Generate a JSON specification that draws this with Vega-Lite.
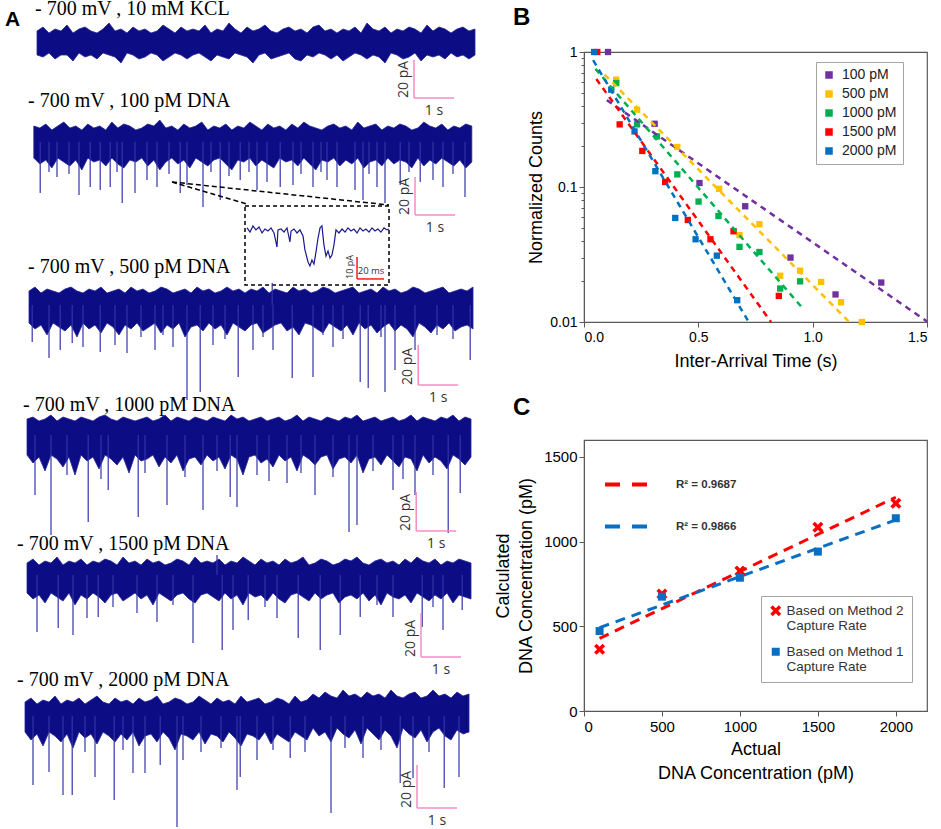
{
"$schema":"https://vega.github.io/schema/vega-lite/v6.json",
"background":"white",
"padding":{"left":5,"top":-1,"right":0,"bottom":0},
"config":{
 "view":{"stroke":null},
 "font":"Liberation Sans",
 "title":{"anchor":"start","frame":"group","font":"Liberation Serif","fontSize":20,"fontWeight":"normal","color":"black","baseline":"alphabetic"},
 "axis":{"grid":false,"domainColor":"#595959","tickColor":"#595959","labelColor":"black","titleColor":"black","labelFont":"Liberation Sans","titleFont":"Liberation Sans","titleFontWeight":"normal","labelFontSize":14,"titleFontSize":18,"tickSize":5,"labelOverlap":false},
 "legend":{"labelFont":"Liberation Sans","labelColor":"#222"},
 "text":{"font":"Open Sans"}
},
"datasets":{
 "b1":[{"t":0.3,"hi":6,"lo":-6},{"t":0.45,"hi":8,"lo":-7},{"t":0.6,"hi":5,"lo":-5},{"t":0.75,"hi":7,"lo":-8},{"t":0.9,"hi":6,"lo":-6},{"t":1.05,"hi":9,"lo":-6},{"t":1.2,"hi":5,"lo":-9},{"t":1.35,"hi":7,"lo":-5},{"t":1.5,"hi":8,"lo":-7},{"t":1.65,"hi":6,"lo":-6},{"t":1.8,"hi":5,"lo":-8},{"t":1.95,"hi":7,"lo":-5},{"t":2.1,"hi":10,"lo":-6},{"t":2.25,"hi":6,"lo":-7},{"t":2.4,"hi":7,"lo":-10},{"t":2.55,"hi":5,"lo":-5},{"t":2.7,"hi":8,"lo":-6},{"t":2.85,"hi":6,"lo":-8},{"t":3,"hi":7,"lo":-7},{"t":3.15,"hi":5,"lo":-5},{"t":3.3,"hi":6,"lo":-6},{"t":3.45,"hi":9,"lo":-9},{"t":3.6,"hi":7,"lo":-7},{"t":3.75,"hi":5,"lo":-5},{"t":3.9,"hi":8,"lo":-6},{"t":4.05,"hi":6,"lo":-8},{"t":4.2,"hi":7,"lo":-6},{"t":4.35,"hi":6,"lo":-5},{"t":4.5,"hi":9,"lo":-7},{"t":4.65,"hi":5,"lo":-9},{"t":4.8,"hi":7,"lo":-6},{"t":4.95,"hi":6,"lo":-7},{"t":5.1,"hi":10,"lo":-8},{"t":5.25,"hi":7,"lo":-5},{"t":5.4,"hi":5,"lo":-6},{"t":5.55,"hi":8,"lo":-7},{"t":5.7,"hi":6,"lo":-10},{"t":5.85,"hi":7,"lo":-6},{"t":6,"hi":9,"lo":-5},{"t":6.15,"hi":6,"lo":-8},{"t":6.3,"hi":5,"lo":-7},{"t":6.45,"hi":7,"lo":-6},{"t":6.6,"hi":8,"lo":-5},{"t":6.75,"hi":6,"lo":-8},{"t":6.9,"hi":7,"lo":-9},{"t":7.05,"hi":5,"lo":-6},{"t":7.2,"hi":8,"lo":-7},{"t":7.35,"hi":9,"lo":-5},{"t":7.5,"hi":6,"lo":-6},{"t":7.65,"hi":7,"lo":-8},{"t":7.8,"hi":5,"lo":-6},{"t":7.95,"hi":7,"lo":-9},{"t":8.1,"hi":6,"lo":-7},{"t":8.25,"hi":8,"lo":-5},{"t":8.4,"hi":5,"lo":-6},{"t":8.55,"hi":10,"lo":-8},{"t":8.7,"hi":7,"lo":-6},{"t":8.85,"hi":6,"lo":-7},{"t":9,"hi":8,"lo":-10},{"t":9.15,"hi":5,"lo":-5},{"t":9.3,"hi":7,"lo":-6},{"t":9.45,"hi":6,"lo":-8},{"t":9.6,"hi":8,"lo":-7},{"t":9.75,"hi":7,"lo":-5},{"t":9.9,"hi":5,"lo":-9},{"t":10.05,"hi":9,"lo":-6},{"t":10.2,"hi":6,"lo":-7},{"t":10.35,"hi":8,"lo":-6},{"t":10.5,"hi":7,"lo":-8},{"t":10.65,"hi":5,"lo":-5},{"t":10.8,"hi":7,"lo":-7},{"t":10.95,"hi":8,"lo":-6},{"t":11.1,"hi":6,"lo":-8},{"t":11.25,"hi":7,"lo":-6}],
 "b2":[{"t":0.22,"hi":8,"lo":-8},{"t":0.37,"hi":7,"lo":-11},{"t":0.52,"hi":9,"lo":-9},{"t":0.67,"hi":6,"lo":-13},{"t":0.82,"hi":8,"lo":-8},{"t":0.97,"hi":10,"lo":-10},{"t":1.12,"hi":7,"lo":-12},{"t":1.27,"hi":8,"lo":-9},{"t":1.42,"hi":6,"lo":-14},{"t":1.57,"hi":9,"lo":-8},{"t":1.72,"hi":7,"lo":-10},{"t":1.87,"hi":8,"lo":-9},{"t":2.02,"hi":6,"lo":-12},{"t":2.17,"hi":10,"lo":-8},{"t":2.32,"hi":7,"lo":-11},{"t":2.47,"hi":9,"lo":-13},{"t":2.62,"hi":8,"lo":-9},{"t":2.77,"hi":6,"lo":-10},{"t":2.92,"hi":7,"lo":-8},{"t":3.07,"hi":9,"lo":-12},{"t":3.22,"hi":8,"lo":-9},{"t":3.37,"hi":11,"lo":-14},{"t":3.52,"hi":7,"lo":-10},{"t":3.67,"hi":8,"lo":-8},{"t":3.82,"hi":6,"lo":-11},{"t":3.97,"hi":9,"lo":-9},{"t":4.12,"hi":7,"lo":-13},{"t":4.27,"hi":8,"lo":-8},{"t":4.42,"hi":10,"lo":-10},{"t":4.57,"hi":6,"lo":-12},{"t":4.72,"hi":8,"lo":-9},{"t":4.87,"hi":7,"lo":-8},{"t":5.02,"hi":9,"lo":-11},{"t":5.17,"hi":6,"lo":-14},{"t":5.32,"hi":8,"lo":-9},{"t":5.47,"hi":7,"lo":-10},{"t":5.62,"hi":10,"lo":-8},{"t":5.77,"hi":8,"lo":-12},{"t":5.92,"hi":6,"lo":-9},{"t":6.07,"hi":9,"lo":-11},{"t":6.22,"hi":7,"lo":-13},{"t":6.37,"hi":8,"lo":-8},{"t":6.52,"hi":6,"lo":-10},{"t":6.67,"hi":9,"lo":-9},{"t":6.82,"hi":7,"lo":-12},{"t":6.97,"hi":10,"lo":-8},{"t":7.12,"hi":8,"lo":-11},{"t":7.27,"hi":7,"lo":-14},{"t":7.42,"hi":6,"lo":-9},{"t":7.57,"hi":8,"lo":-10},{"t":7.72,"hi":9,"lo":-8},{"t":7.87,"hi":7,"lo":-12},{"t":8.02,"hi":8,"lo":-9},{"t":8.17,"hi":6,"lo":-11},{"t":8.32,"hi":10,"lo":-8},{"t":8.47,"hi":7,"lo":-13},{"t":8.62,"hi":8,"lo":-10},{"t":8.77,"hi":9,"lo":-9},{"t":8.92,"hi":6,"lo":-12},{"t":9.07,"hi":8,"lo":-8},{"t":9.22,"hi":7,"lo":-11},{"t":9.37,"hi":9,"lo":-9},{"t":9.52,"hi":8,"lo":-10},{"t":9.67,"hi":6,"lo":-13},{"t":9.82,"hi":7,"lo":-8},{"t":9.97,"hi":10,"lo":-12},{"t":10.12,"hi":8,"lo":-9},{"t":10.27,"hi":7,"lo":-11},{"t":10.42,"hi":9,"lo":-8},{"t":10.57,"hi":6,"lo":-10},{"t":10.72,"hi":8,"lo":-12},{"t":10.87,"hi":7,"lo":-9},{"t":11.02,"hi":9,"lo":-13},{"t":11.17,"hi":8,"lo":-10}],
 "b3":[{"t":0.1,"hi":7,"lo":-9},{"t":0.25,"hi":9,"lo":-12},{"t":0.4,"hi":6,"lo":-10},{"t":0.55,"hi":8,"lo":-15},{"t":0.7,"hi":7,"lo":-9},{"t":0.85,"hi":6,"lo":-11},{"t":1,"hi":8,"lo":-13},{"t":1.15,"hi":9,"lo":-10},{"t":1.3,"hi":7,"lo":-16},{"t":1.45,"hi":6,"lo":-9},{"t":1.6,"hi":8,"lo":-12},{"t":1.75,"hi":7,"lo":-10},{"t":1.9,"hi":9,"lo":-14},{"t":2.05,"hi":6,"lo":-9},{"t":2.2,"hi":7,"lo":-11},{"t":2.35,"hi":8,"lo":-15},{"t":2.5,"hi":6,"lo":-10},{"t":2.65,"hi":9,"lo":-12},{"t":2.8,"hi":7,"lo":-9},{"t":2.95,"hi":8,"lo":-13},{"t":3.1,"hi":6,"lo":-11},{"t":3.25,"hi":7,"lo":-9},{"t":3.4,"hi":9,"lo":-14},{"t":3.55,"hi":8,"lo":-10},{"t":3.7,"hi":6,"lo":-12},{"t":3.85,"hi":7,"lo":-9},{"t":4,"hi":8,"lo":-16},{"t":4.15,"hi":6,"lo":-11},{"t":4.3,"hi":9,"lo":-10},{"t":4.45,"hi":7,"lo":-13},{"t":4.6,"hi":8,"lo":-9},{"t":4.75,"hi":6,"lo":-12},{"t":4.9,"hi":7,"lo":-10},{"t":5.05,"hi":9,"lo":-15},{"t":5.2,"hi":7,"lo":-9},{"t":5.35,"hi":8,"lo":-11},{"t":5.5,"hi":6,"lo":-13},{"t":5.65,"hi":8,"lo":-10},{"t":5.8,"hi":7,"lo":-9},{"t":5.95,"hi":9,"lo":-14},{"t":6.1,"hi":6,"lo":-12},{"t":6.25,"hi":8,"lo":-10},{"t":6.4,"hi":7,"lo":-9},{"t":6.55,"hi":6,"lo":-13},{"t":6.7,"hi":9,"lo":-11},{"t":6.85,"hi":7,"lo":-15},{"t":7,"hi":8,"lo":-9},{"t":7.15,"hi":6,"lo":-10},{"t":7.3,"hi":7,"lo":-12},{"t":7.45,"hi":9,"lo":-14},{"t":7.6,"hi":8,"lo":-9},{"t":7.75,"hi":6,"lo":-11},{"t":7.9,"hi":7,"lo":-13},{"t":8.05,"hi":8,"lo":-10},{"t":8.2,"hi":9,"lo":-15},{"t":8.35,"hi":6,"lo":-9},{"t":8.5,"hi":7,"lo":-12},{"t":8.65,"hi":8,"lo":-10},{"t":8.8,"hi":6,"lo":-14},{"t":8.95,"hi":9,"lo":-11},{"t":9.1,"hi":7,"lo":-9},{"t":9.25,"hi":8,"lo":-13},{"t":9.4,"hi":6,"lo":-10},{"t":9.55,"hi":7,"lo":-12},{"t":9.7,"hi":9,"lo":-16},{"t":9.85,"hi":8,"lo":-9},{"t":10,"hi":6,"lo":-11},{"t":10.15,"hi":7,"lo":-14},{"t":10.3,"hi":8,"lo":-10},{"t":10.45,"hi":9,"lo":-12},{"t":10.6,"hi":6,"lo":-9},{"t":10.75,"hi":7,"lo":-13},{"t":10.9,"hi":8,"lo":-11},{"t":11.05,"hi":7,"lo":-10},{"t":11.2,"hi":9,"lo":-12}],
 "b4":[{"t":0.05,"hi":8,"lo":-10},{"t":0.2,"hi":9,"lo":-14},{"t":0.35,"hi":7,"lo":-11},{"t":0.5,"hi":8,"lo":-18},{"t":0.65,"hi":10,"lo":-10},{"t":0.8,"hi":7,"lo":-12},{"t":0.95,"hi":9,"lo":-16},{"t":1.1,"hi":8,"lo":-11},{"t":1.25,"hi":7,"lo":-20},{"t":1.4,"hi":9,"lo":-10},{"t":1.55,"hi":8,"lo":-13},{"t":1.7,"hi":7,"lo":-11},{"t":1.85,"hi":9,"lo":-17},{"t":2,"hi":10,"lo":-10},{"t":2.15,"hi":8,"lo":-12},{"t":2.3,"hi":7,"lo":-15},{"t":2.45,"hi":9,"lo":-11},{"t":2.6,"hi":8,"lo":-19},{"t":2.75,"hi":7,"lo":-10},{"t":2.9,"hi":8,"lo":-13},{"t":3.05,"hi":9,"lo":-12},{"t":3.2,"hi":7,"lo":-10},{"t":3.35,"hi":8,"lo":-16},{"t":3.5,"hi":10,"lo":-11},{"t":3.65,"hi":7,"lo":-14},{"t":3.8,"hi":9,"lo":-10},{"t":3.95,"hi":8,"lo":-18},{"t":4.1,"hi":7,"lo":-12},{"t":4.25,"hi":9,"lo":-11},{"t":4.4,"hi":8,"lo":-15},{"t":4.55,"hi":7,"lo":-10},{"t":4.7,"hi":9,"lo":-13},{"t":4.85,"hi":8,"lo":-11},{"t":5,"hi":7,"lo":-17},{"t":5.15,"hi":10,"lo":-10},{"t":5.3,"hi":8,"lo":-12},{"t":5.45,"hi":9,"lo":-20},{"t":5.6,"hi":7,"lo":-11},{"t":5.75,"hi":8,"lo":-10},{"t":5.9,"hi":9,"lo":-14},{"t":6.05,"hi":7,"lo":-12},{"t":6.2,"hi":8,"lo":-16},{"t":6.35,"hi":9,"lo":-10},{"t":6.5,"hi":7,"lo":-13},{"t":6.65,"hi":8,"lo":-11},{"t":6.8,"hi":10,"lo":-18},{"t":6.95,"hi":7,"lo":-10},{"t":7.1,"hi":9,"lo":-12},{"t":7.25,"hi":8,"lo":-15},{"t":7.4,"hi":7,"lo":-11},{"t":7.55,"hi":9,"lo":-10},{"t":7.7,"hi":8,"lo":-17},{"t":7.85,"hi":7,"lo":-12},{"t":8,"hi":9,"lo":-11},{"t":8.15,"hi":8,"lo":-14},{"t":8.3,"hi":10,"lo":-10},{"t":8.45,"hi":7,"lo":-19},{"t":8.6,"hi":8,"lo":-12},{"t":8.75,"hi":9,"lo":-11},{"t":8.9,"hi":7,"lo":-15},{"t":9.05,"hi":8,"lo":-10},{"t":9.2,"hi":9,"lo":-13},{"t":9.35,"hi":7,"lo":-16},{"t":9.5,"hi":8,"lo":-11},{"t":9.65,"hi":10,"lo":-12},{"t":9.8,"hi":7,"lo":-18},{"t":9.95,"hi":9,"lo":-10},{"t":10.1,"hi":8,"lo":-14},{"t":10.25,"hi":7,"lo":-11},{"t":10.4,"hi":9,"lo":-13},{"t":10.55,"hi":8,"lo":-17},{"t":10.7,"hi":10,"lo":-10},{"t":10.85,"hi":7,"lo":-12},{"t":11,"hi":9,"lo":-15},{"t":11.15,"hi":8,"lo":-11}],
 "b5":[{"t":0.05,"hi":6,"lo":-9},{"t":0.2,"hi":8,"lo":-12},{"t":0.35,"hi":5,"lo":-10},{"t":0.5,"hi":7,"lo":-14},{"t":0.65,"hi":6,"lo":-9},{"t":0.8,"hi":9,"lo":-11},{"t":0.95,"hi":5,"lo":-13},{"t":1.1,"hi":7,"lo":-9},{"t":1.25,"hi":6,"lo":-15},{"t":1.4,"hi":8,"lo":-10},{"t":1.55,"hi":5,"lo":-12},{"t":1.7,"hi":7,"lo":-9},{"t":1.85,"hi":6,"lo":-11},{"t":2,"hi":8,"lo":-14},{"t":2.15,"hi":7,"lo":-10},{"t":2.3,"hi":5,"lo":-9},{"t":2.45,"hi":9,"lo":-13},{"t":2.6,"hi":6,"lo":-11},{"t":2.75,"hi":7,"lo":-9},{"t":2.9,"hi":5,"lo":-12},{"t":3.05,"hi":8,"lo":-10},{"t":3.2,"hi":6,"lo":-15},{"t":3.35,"hi":7,"lo":-9},{"t":3.5,"hi":5,"lo":-11},{"t":3.65,"hi":6,"lo":-13},{"t":3.8,"hi":8,"lo":-10},{"t":3.95,"hi":7,"lo":-9},{"t":4.1,"hi":5,"lo":-12},{"t":4.25,"hi":9,"lo":-14},{"t":4.4,"hi":6,"lo":-10},{"t":4.55,"hi":7,"lo":-9},{"t":4.7,"hi":6,"lo":-11},{"t":4.85,"hi":8,"lo":-13},{"t":5,"hi":5,"lo":-9},{"t":5.15,"hi":7,"lo":-12},{"t":5.3,"hi":6,"lo":-10},{"t":5.45,"hi":9,"lo":-15},{"t":5.6,"hi":7,"lo":-9},{"t":5.75,"hi":5,"lo":-11},{"t":5.9,"hi":8,"lo":-10},{"t":6.05,"hi":6,"lo":-13},{"t":6.2,"hi":7,"lo":-9},{"t":6.35,"hi":5,"lo":-12},{"t":6.5,"hi":8,"lo":-14},{"t":6.65,"hi":6,"lo":-10},{"t":6.8,"hi":7,"lo":-9},{"t":6.95,"hi":9,"lo":-11},{"t":7.1,"hi":5,"lo":-13},{"t":7.25,"hi":6,"lo":-9},{"t":7.4,"hi":8,"lo":-12},{"t":7.55,"hi":7,"lo":-10},{"t":7.7,"hi":5,"lo":-9},{"t":7.85,"hi":6,"lo":-14},{"t":8,"hi":8,"lo":-11},{"t":8.15,"hi":7,"lo":-10},{"t":8.3,"hi":9,"lo":-12},{"t":8.45,"hi":6,"lo":-9},{"t":8.6,"hi":5,"lo":-13},{"t":8.75,"hi":7,"lo":-10},{"t":8.9,"hi":8,"lo":-15},{"t":9.05,"hi":6,"lo":-9},{"t":9.2,"hi":7,"lo":-11},{"t":9.35,"hi":5,"lo":-12},{"t":9.5,"hi":8,"lo":-10},{"t":9.65,"hi":6,"lo":-14},{"t":9.8,"hi":9,"lo":-9},{"t":9.95,"hi":7,"lo":-11},{"t":10.1,"hi":6,"lo":-13},{"t":10.25,"hi":8,"lo":-10},{"t":10.4,"hi":5,"lo":-12},{"t":10.55,"hi":7,"lo":-9},{"t":10.7,"hi":6,"lo":-14},{"t":10.85,"hi":8,"lo":-10},{"t":11,"hi":7,"lo":-11},{"t":11.15,"hi":6,"lo":-12}],
 "b6":[{"t":0,"hi":7,"lo":-8},{"t":0.15,"hi":9,"lo":-12},{"t":0.3,"hi":6,"lo":-9},{"t":0.45,"hi":8,"lo":-15},{"t":0.6,"hi":7,"lo":-8},{"t":0.75,"hi":10,"lo":-10},{"t":0.9,"hi":6,"lo":-13},{"t":1.05,"hi":8,"lo":-9},{"t":1.2,"hi":7,"lo":-16},{"t":1.35,"hi":9,"lo":-8},{"t":1.5,"hi":6,"lo":-11},{"t":1.65,"hi":8,"lo":-9},{"t":1.8,"hi":10,"lo":-14},{"t":1.95,"hi":7,"lo":-8},{"t":2.1,"hi":6,"lo":-10},{"t":2.25,"hi":9,"lo":-13},{"t":2.4,"hi":7,"lo":-9},{"t":2.55,"hi":8,"lo":-12},{"t":2.7,"hi":6,"lo":-8},{"t":2.85,"hi":9,"lo":-15},{"t":3,"hi":7,"lo":-10},{"t":3.15,"hi":8,"lo":-9},{"t":3.3,"hi":10,"lo":-13},{"t":3.45,"hi":6,"lo":-8},{"t":3.6,"hi":7,"lo":-11},{"t":3.75,"hi":9,"lo":-17},{"t":3.9,"hi":8,"lo":-9},{"t":4.05,"hi":6,"lo":-10},{"t":4.2,"hi":7,"lo":-12},{"t":4.35,"hi":10,"lo":-8},{"t":4.5,"hi":8,"lo":-14},{"t":4.65,"hi":6,"lo":-9},{"t":4.8,"hi":9,"lo":-10},{"t":4.95,"hi":7,"lo":-13},{"t":5.1,"hi":8,"lo":-8},{"t":5.25,"hi":6,"lo":-11},{"t":5.4,"hi":10,"lo":-15},{"t":5.55,"hi":7,"lo":-9},{"t":5.7,"hi":8,"lo":-10},{"t":5.85,"hi":9,"lo":-12},{"t":6,"hi":6,"lo":-8},{"t":6.15,"hi":7,"lo":-14},{"t":6.3,"hi":9,"lo":-9},{"t":6.45,"hi":8,"lo":-11},{"t":6.6,"hi":6,"lo":-13},{"t":6.75,"hi":10,"lo":-8},{"t":6.9,"hi":7,"lo":-10},{"t":7.05,"hi":8,"lo":-12},{"t":7.2,"hi":11,"lo":-6},{"t":7.35,"hi":9,"lo":-10},{"t":7.5,"hi":12,"lo":-8},{"t":7.65,"hi":10,"lo":-13},{"t":7.8,"hi":9,"lo":-6},{"t":7.95,"hi":13,"lo":-9},{"t":8.1,"hi":10,"lo":-11},{"t":8.25,"hi":11,"lo":-7},{"t":8.4,"hi":9,"lo":-14},{"t":8.55,"hi":12,"lo":-6},{"t":8.7,"hi":10,"lo":-9},{"t":8.85,"hi":11,"lo":-12},{"t":9,"hi":9,"lo":-7},{"t":9.15,"hi":13,"lo":-10},{"t":9.3,"hi":10,"lo":-16},{"t":9.45,"hi":9,"lo":-6},{"t":9.6,"hi":11,"lo":-9},{"t":9.75,"hi":12,"lo":-11},{"t":9.9,"hi":9,"lo":-7},{"t":10.05,"hi":10,"lo":-13},{"t":10.2,"hi":13,"lo":-8},{"t":10.35,"hi":10,"lo":-6},{"t":10.5,"hi":11,"lo":-10},{"t":10.65,"hi":9,"lo":-12},{"t":10.8,"hi":12,"lo":-7},{"t":10.95,"hi":10,"lo":-9},{"t":11.1,"hi":11,"lo":-8}],
 "s2":[{"t":0.38,"sp":-25.5},{"t":0.8,"sp":-17.5},{"t":1.35,"sp":-26.5},{"t":1.63,"sp":-22.5},{"t":1.88,"sp":-24},{"t":2.13,"sp":-22.5},{"t":2.43,"sp":-30.5},{"t":2.75,"sp":-25.5},{"t":3.05,"sp":-19},{"t":3.3,"sp":-22.5},{"t":3.88,"sp":-25.5},{"t":4.05,"sp":-21.5},{"t":4.45,"sp":-32.5},{"t":4.88,"sp":-29},{"t":5.38,"sp":-19},{"t":5.8,"sp":-24},{"t":6.05,"sp":-20},{"t":6.38,"sp":-22.5},{"t":6.7,"sp":-21.5},{"t":7.2,"sp":-22.5},{"t":7.55,"sp":-19},{"t":7.8,"sp":-22.5},{"t":8.25,"sp":-24},{"t":8.45,"sp":-29},{"t":8.8,"sp":-22.5},{"t":9,"sp":-30.5},{"t":9.38,"sp":-21.5},{"t":9.88,"sp":-20},{"t":10.2,"sp":-19},{"t":10.45,"sp":-22.5},{"t":11,"sp":-27.5},{"t":0.6,"sp":-15},{"t":1.1,"sp":-16},{"t":2.3,"sp":-15},{"t":3.6,"sp":-16},{"t":4.65,"sp":-15},{"t":5.1,"sp":-17},{"t":5.6,"sp":-15},{"t":6.9,"sp":-16},{"t":7.4,"sp":-15},{"t":8.6,"sp":-16},{"t":9.6,"sp":-15},{"t":10.7,"sp":-16}],
 "s3":[{"t":0.18,"sp":-18.5},{"t":0.6,"sp":-26.5},{"t":0.88,"sp":-22.5},{"t":1.18,"sp":-19},{"t":1.45,"sp":-21},{"t":1.88,"sp":-23.5},{"t":2.25,"sp":-20},{"t":2.55,"sp":-24},{"t":3.25,"sp":-22.5},{"t":3.7,"sp":-21},{"t":4.05,"sp":-47.5},{"t":4.38,"sp":-43.5},{"t":4.7,"sp":-20},{"t":5.33,"sp":-36},{"t":5.7,"sp":-22.5},{"t":6.2,"sp":-22.5},{"t":6.68,"sp":-36.5},{"t":7.2,"sp":-36},{"t":7.7,"sp":-21},{"t":8.38,"sp":-38.5},{"t":8.58,"sp":-41.5},{"t":9,"sp":-43.5},{"t":9.25,"sp":-32.5},{"t":9.75,"sp":-22.5},{"t":11.13,"sp":-27.5},{"t":6.18,"sp":11},{"t":2.9,"sp":-16},{"t":3.45,"sp":-15},{"t":5,"sp":-17},{"t":5.95,"sp":-16},{"t":7.45,"sp":-15},{"t":7.95,"sp":-17},{"t":8.9,"sp":-16},{"t":10.3,"sp":-15},{"t":10.7,"sp":-17}],
 "s4":[{"t":0.25,"sp":-30},{"t":0.65,"sp":-50},{"t":1.58,"sp":-43.5},{"t":2.08,"sp":-27.5},{"t":2.83,"sp":-41},{"t":3.55,"sp":-35},{"t":4.45,"sp":-37.5},{"t":5.13,"sp":-31},{"t":5.3,"sp":-36},{"t":6.55,"sp":-24},{"t":7.25,"sp":-30},{"t":8.1,"sp":-48.5},{"t":8.3,"sp":-45},{"t":9.2,"sp":-27.5},{"t":9.75,"sp":-30},{"t":10.58,"sp":-49},{"t":10.88,"sp":-29},{"t":1.05,"sp":-20},{"t":1.9,"sp":-22},{"t":3,"sp":-19},{"t":4,"sp":-21},{"t":4.8,"sp":-18},{"t":5.8,"sp":-20},{"t":6.1,"sp":-23},{"t":6.9,"sp":-19},{"t":7.7,"sp":-21},{"t":8.7,"sp":-18},{"t":9.45,"sp":-22},{"t":10.2,"sp":-20}],
 "s5":[{"t":0.3,"sp":-28.5},{"t":0.83,"sp":-26.5},{"t":1.2,"sp":-30},{"t":1.55,"sp":-21.5},{"t":1.83,"sp":-21},{"t":2.8,"sp":-19},{"t":3.3,"sp":-23.5},{"t":4.2,"sp":-34},{"t":4.93,"sp":-37.5},{"t":5.2,"sp":-27.5},{"t":5.58,"sp":-22.5},{"t":6.3,"sp":-21.5},{"t":6.83,"sp":-31.5},{"t":7.38,"sp":-37.5},{"t":7.88,"sp":-30},{"t":8.38,"sp":-21},{"t":9.2,"sp":-21},{"t":9.93,"sp":-26},{"t":10.45,"sp":-27.5},{"t":10.93,"sp":-17.5},{"t":4.8,"sp":10},{"t":2.2,"sp":-16},{"t":3.7,"sp":-15},{"t":6,"sp":-16},{"t":8.8,"sp":-15},{"t":10.2,"sp":-16}],
 "s6":[{"t":0.2,"sp":-34.5},{"t":0.6,"sp":-28},{"t":0.95,"sp":-39.5},{"t":1.18,"sp":-39.5},{"t":1.75,"sp":-30.5},{"t":2.23,"sp":-42},{"t":2.7,"sp":-28.5},{"t":3,"sp":-28.5},{"t":3.38,"sp":-24.5},{"t":3.8,"sp":-55.5},{"t":3.95,"sp":-22},{"t":5.3,"sp":-37},{"t":5.38,"sp":-30.5},{"t":5.8,"sp":-22},{"t":6.63,"sp":-21},{"t":7.65,"sp":-48.5},{"t":8.45,"sp":-21},{"t":9.38,"sp":-33.5},{"t":9.7,"sp":-31},{"t":10.48,"sp":-36},{"t":10.85,"sp":-30.5},{"t":1.5,"sp":-18},{"t":2.45,"sp":-17},{"t":4.4,"sp":-18},{"t":4.9,"sp":-16},{"t":6.2,"sp":-17},{"t":7,"sp":-18},{"t":8,"sp":-16},{"t":8.9,"sp":-17},{"t":10.1,"sp":-18}],
 "ins":[{"ms":1.5,"ip":1.4},{"ms":3.7,"ip":-0.5},{"ms":5.9,"ip":2.3},{"ms":8.1,"ip":0.5},{"ms":10.4,"ip":1.8},{"ms":12.6,"ip":-0.9},{"ms":14.8,"ip":0.9},{"ms":17,"ip":0},{"ms":19.3,"ip":1.4},{"ms":21.5,"ip":-0.9},{"ms":23.7,"ip":-7.3},{"ms":24.4,"ip":0.5},{"ms":26.7,"ip":0.9},{"ms":28.9,"ip":-0.5},{"ms":31.1,"ip":1.4},{"ms":33.3,"ip":-5},{"ms":34.1,"ip":0},{"ms":36.3,"ip":0.9},{"ms":38.5,"ip":-0.9},{"ms":40.7,"ip":0.5},{"ms":43,"ip":-2.3},{"ms":44.4,"ip":-8.6},{"ms":46.7,"ip":-14.1},{"ms":48.1,"ip":-15.9},{"ms":49.6,"ip":-13.2},{"ms":51.1,"ip":-15},{"ms":52.6,"ip":-9.5},{"ms":54.1,"ip":-3.2},{"ms":55.6,"ip":1.4},{"ms":57,"ip":2.3},{"ms":58.5,"ip":-6.4},{"ms":60,"ip":-11.4},{"ms":61.5,"ip":-9.1},{"ms":63,"ip":-12.3},{"ms":64.4,"ip":-10.9},{"ms":65.9,"ip":-6.4},{"ms":67.4,"ip":0.5},{"ms":69.6,"ip":-0.9},{"ms":71.9,"ip":0.9},{"ms":74.1,"ip":-0.5},{"ms":76.3,"ip":1.4},{"ms":78.5,"ip":0},{"ms":80.7,"ip":0.9},{"ms":83,"ip":-0.9},{"ms":85.2,"ip":1.4},{"ms":87.4,"ip":0},{"ms":89.6,"ip":0.9},{"ms":91.9,"ip":-0.5},{"ms":94.1,"ip":1.4},{"ms":96.3,"ip":0},{"ms":98.5,"ip":0.9},{"ms":100.7,"ip":-0.5},{"ms":103,"ip":1.4},{"ms":105.2,"ip":0.5},{"ms":106.7,"ip":0.9}],
 "bp":[{"c":"100 pM","t":0.105,"n":1},{"c":"100 pM","t":0.309,"n":0.294},{"c":"100 pM","t":0.505,"n":0.107},{"c":"100 pM","t":0.705,"n":0.072},{"c":"100 pM","t":0.903,"n":0.03},{"c":"100 pM","t":1.1,"n":0.016},{"c":"100 pM","t":1.3,"n":0.0196},{"c":"500 pM","t":0.141,"n":0.624},{"c":"500 pM","t":0.232,"n":0.374},{"c":"500 pM","t":0.408,"n":0.198},{"c":"500 pM","t":0.591,"n":0.097},{"c":"500 pM","t":0.68,"n":0.044},{"c":"500 pM","t":0.767,"n":0.053},{"c":"500 pM","t":0.858,"n":0.022},{"c":"500 pM","t":0.945,"n":0.024},{"c":"500 pM","t":1.037,"n":0.0198},{"c":"500 pM","t":1.124,"n":0.014},{"c":"500 pM","t":1.215,"n":0.01},{"c":"1000 pM","t":0.141,"n":0.589},{"c":"1000 pM","t":0.232,"n":0.291},{"c":"1000 pM","t":0.319,"n":0.237},{"c":"1000 pM","t":0.408,"n":0.124},{"c":"1000 pM","t":0.501,"n":0.078},{"c":"1000 pM","t":0.588,"n":0.061},{"c":"1000 pM","t":0.68,"n":0.036},{"c":"1000 pM","t":0.767,"n":0.033},{"c":"1000 pM","t":0.858,"n":0.0177},{"c":"1000 pM","t":0.945,"n":0.02},{"c":"1500 pM","t":0.058,"n":1},{"c":"1500 pM","t":0.156,"n":0.291},{"c":"1500 pM","t":0.255,"n":0.185},{"c":"1500 pM","t":0.355,"n":0.109},{"c":"1500 pM","t":0.454,"n":0.057},{"c":"1500 pM","t":0.553,"n":0.041},{"c":"1500 pM","t":0.654,"n":0.047},{"c":"1500 pM","t":0.852,"n":0.0156},{"c":"2000 pM","t":0.044,"n":1},{"c":"2000 pM","t":0.119,"n":0.526},{"c":"2000 pM","t":0.221,"n":0.258},{"c":"2000 pM","t":0.312,"n":0.131},{"c":"2000 pM","t":0.399,"n":0.059},{"c":"2000 pM","t":0.488,"n":0.041},{"c":"2000 pM","t":0.581,"n":0.031},{"c":"2000 pM","t":0.67,"n":0.0145}],
 "bl":[{"c":"100 pM","t":0.1,"n":0.44},{"c":"100 pM","t":1.5,"n":0.0101},{"c":"500 pM","t":0.09,"n":0.68},{"c":"500 pM","t":1.16,"n":0.01},{"c":"1000 pM","t":0.05,"n":0.75},{"c":"1000 pM","t":0.95,"n":0.013},{"c":"1500 pM","t":0.054,"n":0.63},{"c":"1500 pM","t":0.818,"n":0.01},{"c":"2000 pM","t":0.04,"n":0.87},{"c":"2000 pM","t":0.716,"n":0.0103}],
 "cp":[{"m":"Method 2","x":100,"y":364},{"m":"Method 2","x":500,"y":691},{"m":"Method 2","x":1000,"y":827},{"m":"Method 2","x":1500,"y":1085},{"m":"Method 2","x":2000,"y":1226},{"m":"Method 1","x":100,"y":472},{"m":"Method 1","x":500,"y":675},{"m":"Method 1","x":1000,"y":787},{"m":"Method 1","x":1500,"y":941},{"m":"Method 1","x":2000,"y":1138}],
 "cl":[{"fit":"R² = 0.9687","x":100,"y":429},{"fit":"R² = 0.9687","x":2000,"y":1262},{"fit":"R² = 0.9866","x":100,"y":492},{"fit":"R² = 0.9866","x":2000,"y":1128}]
},
"hconcat":[
 {"vconcat":[
  {"width":450,"height":66,
   "title":{"text":"- 700 mV , 10 mM KCL","dx":10,"offset":-10.2},
   "encoding":{"x":{"field":"t","type":"quantitative","scale":{"domain":[0,11.25],"nice":false},"axis":null}},
   "layer":[
    {"data":{"name":"b1"},"mark":{"type":"area","color":"#0c0c85","stroke":"#24249a","strokeWidth":0.8},"encoding":{"y":{"field":"hi","type":"quantitative","scale":{"domain":[-37.5,-4.5],"nice":false},"axis":null},"y2":{"field":"lo"}}},
    {"data":{"name":"b1"},"transform":[{"filter":"datum.t == 0.3"}],"mark":{"type":"text","text":"A","font":"Liberation Sans","fontSize":21,"fontWeight":"bold","align":"left","baseline":"alphabetic","color":"black","dx":-32,"dy":-5},"encoding":{"y":{"field":"hi","type":"quantitative","scale":{"domain":[-37.5,-4.5],"nice":false},"axis":null}}},
    {"data":{"values":[{"t":9.725,"t2":10.725,"lo":-27.5,"hi":-8.5}]},"encoding":{"y":{"field":"lo","type":"quantitative","scale":{"domain":[-37.5,-4.5],"nice":false},"axis":null}},"layer":[
     {"mark":{"type":"rule","color":"#f28cc6","strokeWidth":1.5},"encoding":{"y2":{"field":"hi"}}},
     {"mark":{"type":"rule","color":"#f28cc6","strokeWidth":1.5},"encoding":{"x2":{"field":"t2"}}},
     {"mark":{"type":"text","text":"20 pA","angle":270,"align":"left","baseline":"bottom","dy":-3,"fontSize":14,"color":"#333"}},
     {"mark":{"type":"text","text":"1 s","align":"center","baseline":"top","dx":20,"dy":6,"fontSize":14,"color":"#333"}}
    ]}
   ]},
  {"width":450,"height":167,
   "title":{"text":"- 700 mV , 100 pM DNA","dx":3,"offset":7},
   "resolve":{"scale":{"x":"independent","y":"independent"}},
   "layer":[
    {"encoding":{"x":{"field":"t","type":"quantitative","scale":{"domain":[0,11.25],"nice":false},"axis":null}},
     "layer":[
      {"data":{"name":"b2"},"mark":{"type":"area","color":"#0c0c85","stroke":"#24249a","strokeWidth":0.8},"encoding":{"y":{"field":"hi","type":"quantitative","scale":{"domain":[-71.5,12],"nice":false},"axis":null},"y2":{"field":"lo"}}},
      {"data":{"name":"s2"},"mark":{"type":"rule","color":"#3434a6","strokeWidth":1.2},"encoding":{"y":{"field":"sp","type":"quantitative","scale":{"domain":[-71.5,12],"nice":false},"axis":null},"y2":{"datum":0}}},
      {"data":{"values":[{"t":3.675,"y":-20,"t2":5.55,"y2":-31},{"t":3.675,"y":-20,"t2":9.1,"y2":-31.5}]},"mark":{"type":"rule","color":"black","strokeDash":[5,3],"strokeWidth":1.5},"encoding":{"y":{"field":"y","type":"quantitative","scale":{"domain":[-71.5,12],"nice":false},"axis":null},"x2":{"field":"t2"},"y2":{"field":"y2"}}},
      {"data":{"values":[{"t":9.75,"t2":10.75,"lo":-36.5,"hi":-17.5}]},"encoding":{"y":{"field":"lo","type":"quantitative","scale":{"domain":[-71.5,12],"nice":false},"axis":null}},"layer":[
       {"mark":{"type":"rule","color":"#f28cc6","strokeWidth":1.5},"encoding":{"y2":{"field":"hi"}}},
       {"mark":{"type":"rule","color":"#f28cc6","strokeWidth":1.5},"encoding":{"x2":{"field":"t2"}}},
       {"mark":{"type":"text","text":"20 pA","angle":270,"align":"left","baseline":"bottom","dy":-3,"fontSize":14,"color":"#333"}},
       {"mark":{"type":"text","text":"1 s","align":"center","baseline":"top","dx":20,"dy":6,"fontSize":14,"color":"#333"}}
      ]}
     ]},
    {"encoding":{"x":{"field":"ms","type":"quantitative","scale":{"domain":[-163,170.4],"nice":false},"axis":null}},
     "layer":[
      {"data":{"values":[{"ms":0,"ms2":106.7,"ip":11.36,"ip2":-24.55}]},"mark":{"type":"rect","fill":"white","stroke":"black","strokeDash":[4,3],"strokeWidth":1.5},"encoding":{"x2":{"field":"ms2"},"y":{"field":"ip","type":"quantitative","scale":{"domain":[-24.55,51.36],"nice":false},"axis":null},"y2":{"field":"ip2"}}},
      {"data":{"name":"ins"},"mark":{"type":"line","color":"#1a1a8c","strokeWidth":1.2},"encoding":{"y":{"field":"ip","type":"quantitative","scale":{"domain":[-24.55,51.36],"nice":false},"axis":null}}},
      {"data":{"values":[{"ms":83,"ms2":103,"ip":-21.8,"ip2":-11.8}]},"encoding":{"y":{"field":"ip","type":"quantitative","scale":{"domain":[-24.55,51.36],"nice":false},"axis":null}},"layer":[
       {"mark":{"type":"rule","color":"#ff1a1a","strokeWidth":1.5},"encoding":{"y2":{"field":"ip2"}}},
       {"mark":{"type":"rule","color":"#ff1a1a","strokeWidth":1.5},"encoding":{"x2":{"field":"ms2"}}},
       {"mark":{"type":"text","text":"10 pA","angle":270,"align":"left","baseline":"bottom","dy":-2,"fontSize":9,"color":"#333"}},
       {"mark":{"type":"text","text":"20 ms","align":"center","baseline":"bottom","dx":14,"dy":-3,"fontSize":9.5,"color":"#333"}}
      ]}
     ]}
   ]},
  {"width":450,"height":130,
   "title":{"text":"- 700 mV , 500 pM DNA","dx":3,"offset":5},
   "encoding":{"x":{"field":"t","type":"quantitative","scale":{"domain":[0,11.25],"nice":false},"axis":null}},
   "layer":[
    {"data":{"name":"b3"},"mark":{"type":"area","color":"#0c0c85","stroke":"#24249a","strokeWidth":0.8},"encoding":{"y":{"field":"hi","type":"quantitative","scale":{"domain":[-55,10],"nice":false},"axis":null},"y2":{"field":"lo"}}},
    {"data":{"name":"s3"},"mark":{"type":"rule","color":"#3434a6","strokeWidth":1.2},"encoding":{"y":{"field":"sp","type":"quantitative","scale":{"domain":[-55,10],"nice":false},"axis":null},"y2":{"datum":0}}},
    {"data":{"values":[{"t":9.83,"t2":10.83,"lo":-40,"hi":-20}]},"encoding":{"y":{"field":"lo","type":"quantitative","scale":{"domain":[-55,10],"nice":false},"axis":null}},"layer":[
     {"mark":{"type":"rule","color":"#f28cc6","strokeWidth":1.5},"encoding":{"y2":{"field":"hi"}}},
     {"mark":{"type":"rule","color":"#f28cc6","strokeWidth":1.5},"encoding":{"x2":{"field":"t2"}}},
     {"mark":{"type":"text","text":"20 pA","angle":270,"align":"left","baseline":"bottom","dy":-3,"fontSize":14,"color":"#333"}},
     {"mark":{"type":"text","text":"1 s","align":"center","baseline":"top","dx":20,"dy":6,"fontSize":14,"color":"#333"}}
    ]}
   ]},
  {"width":450,"height":141,
   "title":{"text":"- 700 mV , 1000 pM DNA","dx":-2,"offset":-2},
   "encoding":{"x":{"field":"t","type":"quantitative","scale":{"domain":[0,11.25],"nice":false},"axis":null}},
   "layer":[
    {"data":{"name":"b4"},"mark":{"type":"area","color":"#0c0c85","stroke":"#24249a","strokeWidth":0.8},"encoding":{"y":{"field":"hi","type":"quantitative","scale":{"domain":[-60.5,10],"nice":false},"axis":null},"y2":{"field":"lo"}}},
    {"data":{"name":"s4"},"mark":{"type":"rule","color":"#3434a6","strokeWidth":1.2},"encoding":{"y":{"field":"sp","type":"quantitative","scale":{"domain":[-60.5,10],"nice":false},"axis":null},"y2":{"datum":0}}},
    {"data":{"values":[{"t":9.78,"t2":10.78,"lo":-48,"hi":-28.5}]},"encoding":{"y":{"field":"lo","type":"quantitative","scale":{"domain":[-60.5,10],"nice":false},"axis":null}},"layer":[
     {"mark":{"type":"rule","color":"#f28cc6","strokeWidth":1.5},"encoding":{"y2":{"field":"hi"}}},
     {"mark":{"type":"rule","color":"#f28cc6","strokeWidth":1.5},"encoding":{"x2":{"field":"t2"}}},
     {"mark":{"type":"text","text":"20 pA","angle":270,"align":"left","baseline":"bottom","dy":-3,"fontSize":14,"color":"#333"}},
     {"mark":{"type":"text","text":"1 s","align":"center","baseline":"top","dx":20,"dy":6,"fontSize":14,"color":"#333"}}
    ]}
   ]},
  {"width":450,"height":134,
   "title":{"text":"- 700 mV , 1500 pM DNA","dx":-8,"offset":0},
   "encoding":{"x":{"field":"t","type":"quantitative","scale":{"domain":[0,11.25],"nice":false},"axis":null}},
   "layer":[
    {"data":{"name":"b5"},"mark":{"type":"area","color":"#0c0c85","stroke":"#24249a","strokeWidth":0.8},"encoding":{"y":{"field":"hi","type":"quantitative","scale":{"domain":[-57.5,9.5],"nice":false},"axis":null},"y2":{"field":"lo"}}},
    {"data":{"name":"s5"},"mark":{"type":"rule","color":"#3434a6","strokeWidth":1.2},"encoding":{"y":{"field":"sp","type":"quantitative","scale":{"domain":[-57.5,9.5],"nice":false},"axis":null},"y2":{"datum":0}}},
    {"data":{"values":[{"t":9.9,"t2":10.9,"lo":-41,"hi":-19}]},"encoding":{"y":{"field":"lo","type":"quantitative","scale":{"domain":[-57.5,9.5],"nice":false},"axis":null}},"layer":[
     {"mark":{"type":"rule","color":"#f28cc6","strokeWidth":1.5},"encoding":{"y2":{"field":"hi"}}},
     {"mark":{"type":"rule","color":"#f28cc6","strokeWidth":1.5},"encoding":{"x2":{"field":"t2"}}},
     {"mark":{"type":"text","text":"20 pA","angle":270,"align":"left","baseline":"bottom","dy":-3,"fontSize":14,"color":"#333"}},
     {"mark":{"type":"text","text":"1 s","align":"center","baseline":"top","dx":20,"dy":6,"fontSize":14,"color":"#333"}}
    ]}
   ]},
  {"width":450,"height":139,
   "title":{"text":"- 700 mV , 2000 pM DNA","dx":-8,"offset":-2},
   "encoding":{"x":{"field":"t","type":"quantitative","scale":{"domain":[0,11.25],"nice":false},"axis":null}},
   "layer":[
    {"data":{"name":"b6"},"mark":{"type":"area","color":"#0c0c85","stroke":"#24249a","strokeWidth":0.8},"encoding":{"y":{"field":"hi","type":"quantitative","scale":{"domain":[-56.5,13],"nice":false},"axis":null},"y2":{"field":"lo"}}},
    {"data":{"name":"s6"},"mark":{"type":"rule","color":"#3434a6","strokeWidth":1.2},"encoding":{"y":{"field":"sp","type":"quantitative","scale":{"domain":[-56.5,13],"nice":false},"axis":null},"y2":{"datum":0}}},
    {"data":{"values":[{"t":9.8,"t2":10.8,"lo":-46,"hi":-24.5}]},"encoding":{"y":{"field":"lo","type":"quantitative","scale":{"domain":[-56.5,13],"nice":false},"axis":null}},"layer":[
     {"mark":{"type":"rule","color":"#f28cc6","strokeWidth":1.5},"encoding":{"y2":{"field":"hi"}}},
     {"mark":{"type":"rule","color":"#f28cc6","strokeWidth":1.5},"encoding":{"x2":{"field":"t2"}}},
     {"mark":{"type":"text","text":"20 pA","angle":270,"align":"left","baseline":"bottom","dy":-3,"fontSize":14,"color":"#333"}},
     {"mark":{"type":"text","text":"1 s","align":"center","baseline":"top","dx":20,"dy":6,"fontSize":14,"color":"#333"}}
    ]}
   ]}
 ],"spacing":0,"bounds":"flush"},
 {"vconcat":[
   {"width":343,"height":270,
    "title":{"text":"B","font":"Liberation Sans","fontWeight":"bold","fontSize":24,"dx":-71,"offset":15.5},
    "view":{"stroke":"#595959","strokeWidth":1.2},
    "encoding":{
     "x":{"field":"t","type":"quantitative","scale":{"domain":[0,1.5],"nice":false},"axis":{"values":[0,0.5,1,1.5],"format":".1f","title":"Inter-Arrival Time (s)","labelPadding":3,"titlePadding":8}},
     "y":{"field":"n","type":"quantitative","scale":{"type":"log","domain":[0.01,1],"nice":false},"axis":{"values":[0.01,0.02,0.03,0.04,0.05,0.06,0.07,0.08,0.09,0.1,0.2,0.3,0.4,0.5,0.6,0.7,0.8,0.9,1],"labelExpr":"datum.value == 1 ? '1' : datum.value == 0.1 ? '0.1' : datum.value == 0.01 ? '0.01' : ''","tickSize":{"condition":{"test":"datum.value == 1 || datum.value == 0.1 || datum.value == 0.01","value":5},"value":3},"title":"Normalized Counts","titlePadding":4}},
     "color":{"field":"c","type":"nominal","scale":{"domain":["100 pM","500 pM","1000 pM","1500 pM","2000 pM"],"range":["#7030a0","#ffc000","#00b050","#ff0000","#0070c0"]},"legend":{"orient":"none","legendX":232,"legendY":10,"title":null,"strokeColor":"#a6a6a6","fillColor":"white","padding":6,"rowPadding":5,"symbolType":"square","symbolSize":36,"labelFontSize":14,"labelOffset":6}}
    },
    "layer":[
     {"data":{"name":"bp"},"mark":{"type":"square","size":40,"opacity":1}},
     {"data":{"name":"bl"},"mark":{"type":"line","strokeDash":[6,5],"strokeWidth":2.5}}
    ]},
   {"width":343,"height":271,
    "title":{"text":"C","font":"Liberation Sans","fontWeight":"bold","fontSize":24,"dx":-71,"offset":20},
    "view":{"stroke":"#595959","strokeWidth":1.2},
    "encoding":{
     "x":{"field":"x","type":"quantitative","scale":{"domain":[0,2200],"nice":false},"axis":{"values":[0,500,1000,1500,2000],"format":"d","title":["Actual","DNA Concentration (pM)"],"labelFontSize":15,"titleLineHeight":24,"titlePadding":6,"labelPadding":3}},
     "y":{"field":"y","type":"quantitative","scale":{"domain":[0,1600],"nice":false},"axis":{"values":[0,500,1000,1500],"format":"d","title":["Calculated","DNA Concentration (pM)"],"labelFontSize":15,"titleLineHeight":23,"titlePadding":8}}
    },
    "resolve":{"scale":{"color":"independent","shape":"independent","size":"independent"}},
    "layer":[
     {"data":{"name":"cl"},"mark":{"type":"line","strokeDash":[10,7],"strokeWidth":3},"encoding":{"color":{"field":"fit","type":"nominal","scale":{"domain":["R² = 0.9687","R² = 0.9866"],"range":["#ff0000","#0a6fc2"]},"legend":{"orient":"none","legendX":19,"legendY":21,"title":null,"symbolType":"stroke","symbolSize":1849,"symbolStrokeWidth":4,"symbolDash":[15,12],"labelFontWeight":"bold","labelFontSize":11.5,"labelOffset":26,"rowPadding":10,"padding":0,"labelColor":"#333"}}}},
     {"data":{"name":"cp"},"mark":{"type":"point","filled":true,"opacity":1},"encoding":{
      "color":{"field":"m","type":"nominal","scale":{"domain":["Method 2","Method 1"],"range":["#ff0000","#0a6fc2"]},"legend":{"orient":"none","legendX":177,"legendY":156,"title":null,"strokeColor":"#a6a6a6","fillColor":"white","padding":8,"labelFontSize":13.5,"labelLineHeight":19,"labelOffset":4,"rowPadding":11,"symbolSize":110,"labelColor":"#333","labelLimit":200,"labelExpr":"datum.label == 'Method 2' ? ['Based on Method 2', 'Capture Rate'] : ['Based on Method 1', 'Capture Rate']"}},
      "shape":{"field":"m","type":"nominal","scale":{"domain":["Method 2","Method 1"],"range":["M-1,-0.55L-0.55,-1L0,-0.45L0.55,-1L1,-0.55L0.45,0L1,0.55L0.55,1L0,0.45L-0.55,1L-1,0.55L-0.45,0Z","square"]},"legend":{"orient":"none","legendX":177,"legendY":156,"title":null,"strokeColor":"#a6a6a6","fillColor":"white","padding":8,"labelFontSize":13.5,"labelLineHeight":19,"labelOffset":4,"rowPadding":11,"symbolSize":110,"labelColor":"#333","labelLimit":200,"labelExpr":"datum.label == 'Method 2' ? ['Based on Method 2', 'Capture Rate'] : ['Based on Method 1', 'Capture Rate']"}},
      "size":{"field":"m","type":"nominal","scale":{"domain":["Method 2","Method 1"],"range":[121,64]},"legend":null}}}
    ]}
 ],"spacing":118,"bounds":"flush","resolve":{"scale":{"color":"independent","shape":"independent","size":"independent","stroke":"independent"}}}
],
"spacing":17,
"bounds":"full",
"resolve":{"scale":{"color":"independent","shape":"independent","size":"independent","stroke":"independent"}}
}
